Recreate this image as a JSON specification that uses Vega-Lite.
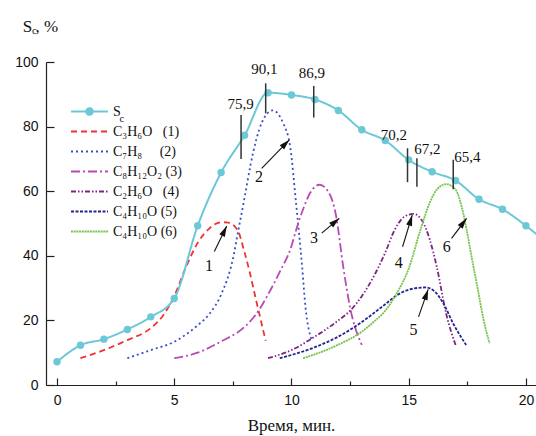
{
  "$schema": "https://vega.github.io/schema/vega-lite/v6.json",
  "width": 490,
  "height": 323,
  "autosize": {"type": "none"},
  "padding": {"left": 46, "top": 62, "right": 0, "bottom": 51},
  "background": "white",
  "config": {
    "view": {"stroke": null},
    "axis": {
      "grid": false,
      "domainColor": "#222222",
      "domainWidth": 1.2,
      "tickColor": "#222222",
      "tickWidth": 1.2,
      "labelFont": "Liberation Sans, Arial, Helvetica, sans-serif",
      "labelFontSize": 14,
      "labelColor": "#111111",
      "labelFlush": false,
      "titleFont": "Liberation Serif, Times New Roman, Times, serif",
      "titleFontSize": 17,
      "titleFontWeight": "normal",
      "titleColor": "#111111"
    }
  },
  "datasets": {
    "lines": [
      {"s": "Sc", "t": 0, "v": 7.2}, {"s": "Sc", "t": 1, "v": 12.3}, {"s": "Sc", "t": 2, "v": 14.2},
      {"s": "Sc", "t": 3, "v": 17.2}, {"s": "Sc", "t": 4, "v": 21.1}, {"s": "Sc", "t": 5, "v": 26.8},
      {"s": "Sc", "t": 6, "v": 49.3}, {"s": "Sc", "t": 7, "v": 65.8}, {"s": "Sc", "t": 8, "v": 77.3},
      {"s": "Sc", "t": 9, "v": 90.5}, {"s": "Sc", "t": 10, "v": 89.8}, {"s": "Sc", "t": 11, "v": 88.4},
      {"s": "Sc", "t": 12, "v": 85.0}, {"s": "Sc", "t": 13, "v": 79.0}, {"s": "Sc", "t": 14, "v": 75.7},
      {"s": "Sc", "t": 15, "v": 69.7}, {"s": "Sc", "t": 16, "v": 66.0}, {"s": "Sc", "t": 17, "v": 63.3},
      {"s": "Sc", "t": 18, "v": 57.5}, {"s": "Sc", "t": 19, "v": 54.4}, {"s": "Sc", "t": 20, "v": 49.3},
      {"s": "Sc", "t": 20.6, "v": 45.8},
      {"s": "1", "t": 1, "v": 8.3}, {"s": "1", "t": 2, "v": 10.8}, {"s": "1", "t": 3, "v": 13.9},
      {"s": "1", "t": 4, "v": 17.6}, {"s": "1", "t": 4.5, "v": 21.3}, {"s": "1", "t": 5, "v": 27.5},
      {"s": "1", "t": 5.5, "v": 36.5}, {"s": "1", "t": 6, "v": 44}, {"s": "1", "t": 6.5, "v": 48.5},
      {"s": "1", "t": 7, "v": 50.4}, {"s": "1", "t": 7.3, "v": 50.3}, {"s": "1", "t": 7.7, "v": 48},
      {"s": "1", "t": 8, "v": 41}, {"s": "1", "t": 8.2, "v": 35.5}, {"s": "1", "t": 8.5, "v": 26},
      {"s": "1", "t": 8.9, "v": 13.7},
      {"s": "2", "t": 3, "v": 8.3}, {"s": "2", "t": 4, "v": 10.8}, {"s": "2", "t": 5, "v": 13.4},
      {"s": "2", "t": 6, "v": 18.5}, {"s": "2", "t": 6.5, "v": 22}, {"s": "2", "t": 7, "v": 28},
      {"s": "2", "t": 7.5, "v": 39}, {"s": "2", "t": 7.75, "v": 48.5}, {"s": "2", "t": 8, "v": 58},
      {"s": "2", "t": 8.25, "v": 68}, {"s": "2", "t": 8.5, "v": 76}, {"s": "2", "t": 8.75, "v": 81.5},
      {"s": "2", "t": 9.2, "v": 85}, {"s": "2", "t": 9.65, "v": 81}, {"s": "2", "t": 9.95, "v": 73.5},
      {"s": "2", "t": 10.2, "v": 56}, {"s": "2", "t": 10.45, "v": 37}, {"s": "2", "t": 10.6, "v": 24},
      {"s": "2", "t": 10.86, "v": 13.9},
      {"s": "3", "t": 5, "v": 8.3}, {"s": "3", "t": 6, "v": 10}, {"s": "3", "t": 7, "v": 13.5},
      {"s": "3", "t": 8, "v": 18}, {"s": "3", "t": 8.5, "v": 22}, {"s": "3", "t": 9, "v": 28},
      {"s": "3", "t": 9.5, "v": 35}, {"s": "3", "t": 10, "v": 43}, {"s": "3", "t": 10.2, "v": 48},
      {"s": "3", "t": 10.5, "v": 54.5}, {"s": "3", "t": 10.8, "v": 59.5}, {"s": "3", "t": 11.2, "v": 62},
      {"s": "3", "t": 11.6, "v": 59.5}, {"s": "3", "t": 11.9, "v": 52.5}, {"s": "3", "t": 12.2, "v": 37},
      {"s": "3", "t": 12.5, "v": 24}, {"s": "3", "t": 13, "v": 12.4},
      {"s": "4", "t": 9, "v": 8.3}, {"s": "4", "t": 10, "v": 10.8}, {"s": "4", "t": 11, "v": 15},
      {"s": "4", "t": 12, "v": 20}, {"s": "4", "t": 12.5, "v": 23}, {"s": "4", "t": 13, "v": 27.5},
      {"s": "4", "t": 13.5, "v": 33.5}, {"s": "4", "t": 14, "v": 41}, {"s": "4", "t": 14.4, "v": 48},
      {"s": "4", "t": 14.8, "v": 52}, {"s": "4", "t": 15.2, "v": 53}, {"s": "4", "t": 15.6, "v": 50.5},
      {"s": "4", "t": 15.9, "v": 45}, {"s": "4", "t": 16.2, "v": 36.5}, {"s": "4", "t": 16.6, "v": 22},
      {"s": "4", "t": 17, "v": 12.4},
      {"s": "5", "t": 9.5, "v": 8.3}, {"s": "5", "t": 10, "v": 9.3}, {"s": "5", "t": 11, "v": 11.7},
      {"s": "5", "t": 12, "v": 15}, {"s": "5", "t": 13, "v": 19.5}, {"s": "5", "t": 14, "v": 25},
      {"s": "5", "t": 14.5, "v": 27.8}, {"s": "5", "t": 15, "v": 29.5}, {"s": "5", "t": 15.7, "v": 30.2},
      {"s": "5", "t": 16.1, "v": 29}, {"s": "5", "t": 16.5, "v": 25}, {"s": "5", "t": 16.9, "v": 19},
      {"s": "5", "t": 17.45, "v": 12.4},
      {"s": "6", "t": 10.5, "v": 8.3}, {"s": "6", "t": 11, "v": 9.5}, {"s": "6", "t": 12, "v": 12.5},
      {"s": "6", "t": 13, "v": 16.5}, {"s": "6", "t": 13.5, "v": 19.5}, {"s": "6", "t": 14, "v": 23},
      {"s": "6", "t": 14.5, "v": 28.5}, {"s": "6", "t": 15, "v": 36}, {"s": "6", "t": 15.5, "v": 48},
      {"s": "6", "t": 15.9, "v": 56.5}, {"s": "6", "t": 16.2, "v": 60.5}, {"s": "6", "t": 16.6, "v": 62.2},
      {"s": "6", "t": 17, "v": 60.5}, {"s": "6", "t": 17.3, "v": 54}, {"s": "6", "t": 17.5, "v": 47},
      {"s": "6", "t": 17.7, "v": 39}, {"s": "6", "t": 17.9, "v": 31.5}, {"s": "6", "t": 18.2, "v": 20},
      {"s": "6", "t": 18.45, "v": 12.9}
    ],
    "marks": [
      {"t": 7.85, "v": 70.0, "v2": 83.6},
      {"t": 8.9, "v": 84.1, "v2": 93.4},
      {"t": 10.95, "v": 82.8, "v2": 92.6},
      {"t": 14.95, "v": 62.8, "v2": 73.3},
      {"t": 15.35, "v": 61.4, "v2": 70.2},
      {"t": 16.9, "v": 60.6, "v2": 69.7}
    ],
    "arrows": [
      {"t": 6.71, "v": 41.3, "t2": 7.24, "v2": 49.2},
      {"t": 8.73, "v": 67.1, "t2": 9.91, "v2": 75.9},
      {"t": 11.29, "v": 47.0, "t2": 12.04, "v2": 51.6},
      {"t": 14.74, "v": 42.8, "t2": 15.15, "v2": 52.6},
      {"t": 15.42, "v": 21.1, "t2": 15.83, "v2": 29.6},
      {"t": 16.83, "v": 45.4, "t2": 17.47, "v2": 51.6}
    ],
    "texts": [
      {"kind": "num", "label": "75,9", "t": 7.83, "v": 87.0},
      {"kind": "num", "label": "90,1", "t": 8.84, "v": 97.7},
      {"kind": "num", "label": "86,9", "t": 10.87, "v": 96.7},
      {"kind": "num", "label": "70,2", "t": 14.37, "v": 77.4},
      {"kind": "num", "label": "67,2", "t": 15.8, "v": 73.1},
      {"kind": "num", "label": "65,4", "t": 17.5, "v": 70.6},
      {"kind": "arr", "label": "1", "t": 6.48, "v": 36.8},
      {"kind": "arr", "label": "2", "t": 8.61, "v": 64.5},
      {"kind": "arr", "label": "3", "t": 10.96, "v": 45.4},
      {"kind": "arr", "label": "4", "t": 14.58, "v": 37.9},
      {"kind": "arr", "label": "5", "t": 15.2, "v": 17.0},
      {"kind": "arr", "label": "6", "t": 16.62, "v": 42.8},
      {"kind": "big", "label": "S", "t": -1.46, "v": 109.4},
      {"kind": "big", "label": ", %", "t": -0.92, "v": 109.4},
      {"kind": "sub", "label": "c", "t": -1.07, "v": 108.7},
      {"kind": "sub", "label": "c", "t": 2.66, "v": 81.5}
    ]
  },
  "layer": [
    {
      "data": {"name": "lines"},
      "transform": [{"filter": "datum.s !== 'Sc'"}],
      "mark": {"type": "line", "interpolate": "monotone", "strokeWidth": 1.8, "strokeCap": "butt"},
      "encoding": {
        "x": {"field": "t", "type": "quantitative",
          "scale": {"domain": [-0.47, 20.43], "nice": false, "zero": false},
          "axis": {
            "values": [0, 2.5, 5, 7.5, 10, 12.5, 15, 17.5, 20],
            "labelExpr": "datum.value % 5 === 0 ? datum.label : ''",
            "tickSize": {"condition": {"test": "datum.value % 5 === 0", "value": -7}, "value": -4},
            "labelPadding": 15,
            "title": "Время, мин.",
            "titlePadding": 10
          }},
        "y": {"field": "v", "type": "quantitative",
          "scale": {"domain": [0, 100], "nice": false},
          "axis": {
            "values": [0, 10, 20, 30, 40, 50, 60, 70, 80, 90, 100],
            "labelExpr": "datum.value % 20 === 0 ? datum.label : ''",
            "tickSize": {"condition": {"test": "datum.value % 20 === 0", "value": -8}, "value": -4},
            "labelPadding": 16,
            "title": null
          }},
        "color": {"field": "s", "type": "nominal",
          "scale": {"domain": ["Sc", "1", "2", "3", "4", "5", "6"],
            "range": ["#6CC8D6", "#F03232", "#3B4FC4", "#B64BB6", "#7E2486", "#24248E", "#76C44C"]},
          "legend": {
            "orient": "none", "legendX": 36, "legendY": 42, "title": null, "padding": 0,
            "symbolType": {"expr": "datum.value === 'Sc' ? 'M-3,0L3,0M-0.55,0A0.55,0.55 0 1,1 0.55,0A0.55,0.55 0 1,1 -0.55,0Z' : 'M-3,0L3,0'"},
            "symbolFillColor": {"expr": "datum.value === 'Sc' ? '#6CC8D6' : 'transparent'"},
            "symbolSize": 152, "symbolStrokeWidth": 1.8,
            "labelFont": "Liberation Serif, Times New Roman, Times, serif", "labelFontSize": 14, "labelColor": "#111111",
            "labelOffset": 16, "rowPadding": 5,
            "labelExpr": "{'Sc': 'S', '1': 'C₃H₆O\u00a0\u00a0 (1)', '2': 'C₇H₈\u00a0\u00a0\u00a0\u00a0 (2)', '3': 'C₈H₁₂O₂ (3)', '4': 'C₂H₆O\u00a0\u00a0 (4)', '5': 'C₄H₁₀O (5)', '6': 'C₄H₁₀O (6)'}[datum.value]"
          }},
        "strokeDash": {"field": "s", "type": "nominal",
          "scale": {"domain": ["Sc", "1", "2", "3", "4", "5", "6"],
            "range": [[1, 0], [6, 4], [2, 3], [9, 3, 2, 3], [5, 2, 1.5, 2, 1.5, 2], [3, 1.5], [2, 0.7]]},
          "legend": {
            "orient": "none", "legendX": 36, "legendY": 42, "title": null, "padding": 0,
            "symbolType": {"expr": "datum.value === 'Sc' ? 'M-3,0L3,0M-0.55,0A0.55,0.55 0 1,1 0.55,0A0.55,0.55 0 1,1 -0.55,0Z' : 'M-3,0L3,0'"},
            "symbolFillColor": {"expr": "datum.value === 'Sc' ? '#6CC8D6' : 'transparent'"},
            "symbolSize": 152, "symbolStrokeWidth": 1.8,
            "labelFont": "Liberation Serif, Times New Roman, Times, serif", "labelFontSize": 14, "labelColor": "#111111",
            "labelOffset": 16, "rowPadding": 5,
            "labelExpr": "{'Sc': 'S', '1': 'C₃H₆O\u00a0\u00a0 (1)', '2': 'C₇H₈\u00a0\u00a0\u00a0\u00a0 (2)', '3': 'C₈H₁₂O₂ (3)', '4': 'C₂H₆O\u00a0\u00a0 (4)', '5': 'C₄H₁₀O (5)', '6': 'C₄H₁₀O (6)'}[datum.value]"
          }}
      }
    },
    {
      "data": {"name": "lines"},
      "transform": [{"filter": "datum.s === 'Sc'"}],
      "mark": {"type": "line", "interpolate": "monotone", "strokeWidth": 2, "clip": true},
      "encoding": {
        "x": {"field": "t", "type": "quantitative"},
        "y": {"field": "v", "type": "quantitative"},
        "color": {"field": "s", "type": "nominal"},
        "strokeDash": {"field": "s", "type": "nominal"}
      }
    },
    {
      "data": {"name": "lines"},
      "transform": [{"filter": "datum.s === 'Sc' && datum.t <= 20"}],
      "mark": {"type": "point", "filled": true, "size": 55, "opacity": 1, "color": "#6CC8D6"},
      "encoding": {
        "x": {"field": "t", "type": "quantitative"},
        "y": {"field": "v", "type": "quantitative"}
      }
    },
    {
      "data": {"name": "marks"},
      "mark": {"type": "rule", "color": "#333333", "strokeWidth": 1.5},
      "encoding": {
        "x": {"field": "t", "type": "quantitative"},
        "y": {"field": "v", "type": "quantitative"},
        "y2": {"field": "v2"}
      }
    },
    {
      "data": {"name": "arrows"},
      "mark": {"type": "rule", "color": "#111111", "strokeWidth": 1.1},
      "encoding": {
        "x": {"field": "t", "type": "quantitative"},
        "y": {"field": "v", "type": "quantitative"},
        "x2": {"field": "t2"},
        "y2": {"field": "v2"}
      }
    },
    {
      "data": {"name": "arrows"},
      "transform": [{"calculate": "atan2((datum.t2 - datum.t) * 23.445, (datum.v2 - datum.v) * 3.23) * 180 / PI", "as": "ang"}],
      "mark": {"type": "point", "shape": "M0,0L-0.36,1.25L0.36,1.25Z", "filled": true, "color": "#111111", "size": 290, "opacity": 1},
      "encoding": {
        "x": {"field": "t2", "type": "quantitative"},
        "y": {"field": "v2", "type": "quantitative"},
        "angle": {"field": "ang", "type": "quantitative", "scale": null}
      }
    },
    {
      "data": {"name": "texts"},
      "transform": [{"filter": "datum.kind === 'num'"}],
      "mark": {"type": "text", "font": "Liberation Serif, Times New Roman, Times, serif", "fontSize": 15, "color": "#111111", "align": "center", "baseline": "middle"},
      "encoding": {
        "x": {"field": "t", "type": "quantitative"},
        "y": {"field": "v", "type": "quantitative"},
        "text": {"field": "label"}
      }
    },
    {
      "data": {"name": "texts"},
      "transform": [{"filter": "datum.kind === 'arr'"}],
      "mark": {"type": "text", "font": "Liberation Serif, Times New Roman, Times, serif", "fontSize": 16, "color": "#111111", "align": "center", "baseline": "middle"},
      "encoding": {
        "x": {"field": "t", "type": "quantitative"},
        "y": {"field": "v", "type": "quantitative"},
        "text": {"field": "label"}
      }
    },
    {
      "data": {"name": "texts"},
      "transform": [{"filter": "datum.kind === 'big'"}],
      "mark": {"type": "text", "font": "Liberation Serif, Times New Roman, Times, serif", "fontSize": 17, "color": "#111111", "align": "left", "baseline": "alphabetic"},
      "encoding": {
        "x": {"field": "t", "type": "quantitative"},
        "y": {"field": "v", "type": "quantitative"},
        "text": {"field": "label"}
      }
    },
    {
      "data": {"name": "texts"},
      "transform": [{"filter": "datum.kind === 'sub'"}],
      "mark": {"type": "text", "font": "Liberation Serif, Times New Roman, Times, serif", "fontSize": 10.5, "color": "#111111", "align": "left", "baseline": "alphabetic"},
      "encoding": {
        "x": {"field": "t", "type": "quantitative"},
        "y": {"field": "v", "type": "quantitative"},
        "text": {"field": "label"}
      }
    }
  ]
}
